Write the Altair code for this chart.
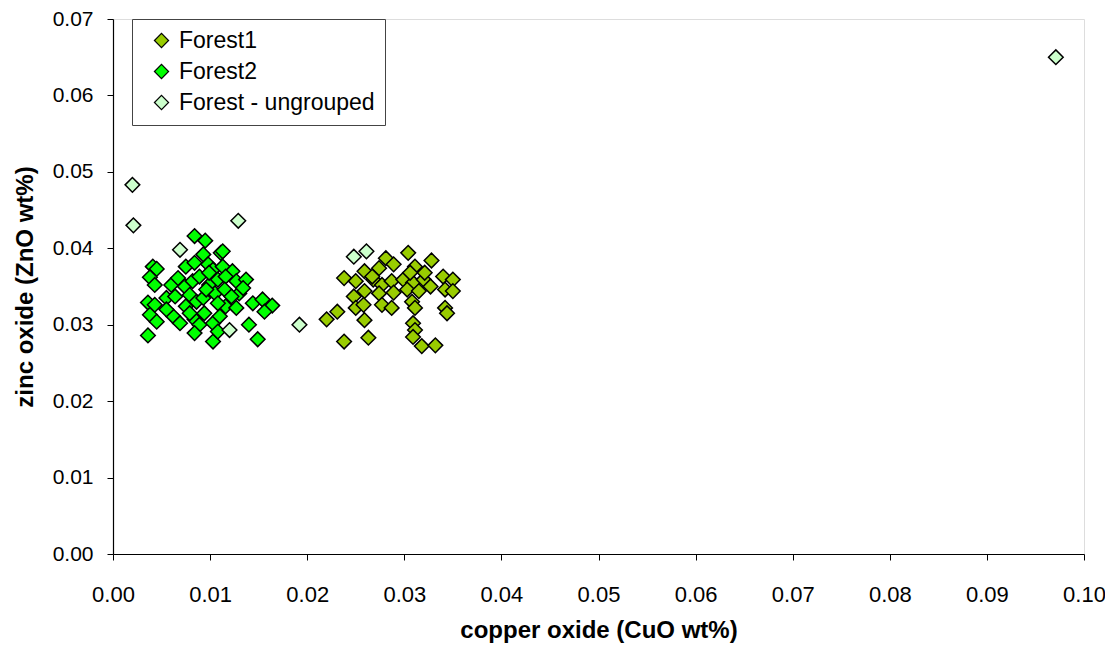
import altair as alt
import pandas as pd

# ---- data ----
groups = ["Forest1", "Forest2", "Forest - ungrouped"]
colors = ["#99CC00", "#00FF00", "#CCFFCC"]

forest1_cuo = [0.0238, 0.0250, 0.0259, 0.0274, 0.0281, 0.0289, 0.0304, 0.0311, 0.0328, 0.0340,
               0.0350, 0.0268, 0.0277, 0.0287, 0.0299, 0.0309, 0.0320, 0.0327, 0.0342, 0.0350,
               0.0259, 0.0248, 0.0274, 0.0289, 0.0303, 0.0315, 0.0250, 0.0258, 0.0277, 0.0287,
               0.0308, 0.0311, 0.0342, 0.0344, 0.0231, 0.0220, 0.0259, 0.0309, 0.0311, 0.0309,
               0.0238, 0.0263, 0.0318, 0.0332, 0.0321, 0.0267, 0.0306]
forest1_zno = [0.0361, 0.0357, 0.0370, 0.0374, 0.0387, 0.0379, 0.0394, 0.0376, 0.0384, 0.0363,
               0.0359, 0.0359, 0.0352, 0.0357, 0.0359, 0.0355, 0.0359, 0.0350, 0.0346, 0.0344,
               0.0344, 0.0337, 0.0341, 0.0342, 0.0346, 0.0344, 0.0322, 0.0326, 0.0326, 0.0322,
               0.0330, 0.0322, 0.0322, 0.0315, 0.0317, 0.0307, 0.0306, 0.0302, 0.0293, 0.0284,
               0.0278, 0.0283, 0.0272, 0.0273, 0.0368, 0.0363, 0.0368]

forest2_cuo = [0.0084, 0.0095, 0.0093, 0.0111, 0.0113, 0.0041, 0.0045, 0.0075, 0.0084, 0.0098,
               0.0103, 0.0113, 0.0123, 0.0038, 0.0043, 0.0060, 0.0067, 0.0074, 0.0082, 0.0089,
               0.0099, 0.0108, 0.0116, 0.0127, 0.0137, 0.0036, 0.0043, 0.0055, 0.0064, 0.0079,
               0.0086, 0.0093, 0.0105, 0.0115, 0.0130, 0.0144, 0.0154, 0.0164, 0.0156, 0.0038,
               0.0045, 0.0062, 0.0069, 0.0084, 0.0089, 0.0103, 0.0110, 0.0116, 0.0127, 0.0140,
               0.0036, 0.0084, 0.0103, 0.0149, 0.0108, 0.0094, 0.0075, 0.0096, 0.0108, 0.0055,
               0.0134, 0.0099, 0.0122, 0.0079]
forest2_zno = [0.0416, 0.0410, 0.0392, 0.0394, 0.0396, 0.0376, 0.0373, 0.0376, 0.0381, 0.0379,
               0.0372, 0.0376, 0.0370, 0.0362, 0.0352, 0.0352, 0.0361, 0.0350, 0.0357, 0.0363,
               0.0352, 0.0359, 0.0363, 0.0357, 0.0359, 0.0329, 0.0326, 0.0335, 0.0337, 0.0339,
               0.0330, 0.0335, 0.0341, 0.0346, 0.0341, 0.0328, 0.0333, 0.0325, 0.0317, 0.0313,
               0.0304, 0.0311, 0.0302, 0.0307, 0.0300, 0.0302, 0.0311, 0.0324, 0.0322, 0.0300,
               0.0286, 0.0289, 0.0278, 0.0281, 0.0291, 0.0315, 0.0324, 0.0346, 0.0328, 0.0320,
               0.0348, 0.0368, 0.0337, 0.0315]

ungrouped_cuo = [0.0020, 0.0021, 0.0129, 0.0069, 0.0120, 0.0192, 0.0248, 0.0261, 0.0971]
ungrouped_zno = [0.0483, 0.0430, 0.0436, 0.0398, 0.0293, 0.0300, 0.0389, 0.0396, 0.0650]

x_ticks = [0.00, 0.01, 0.02, 0.03, 0.04, 0.05, 0.06, 0.07, 0.08, 0.09, 0.10]
y_ticks = [0.00, 0.01, 0.02, 0.03, 0.04, 0.05, 0.06, 0.07]

# ---- table ----
rows = []
for g, xs, ys in [(groups[0], forest1_cuo, forest1_zno),
                  (groups[1], forest2_cuo, forest2_zno),
                  (groups[2], ungrouped_cuo, ungrouped_zno)]:
    for xv, yv in zip(xs, ys):
        rows.append({"group": g, "cuo": xv, "zno": yv})
df = pd.DataFrame(rows)

FONT = "Liberation Sans"
PLOT_W = 971
PLOT_H = 535

chart = alt.Chart(df).mark_point(
    shape="diamond", filled=True, size=215, stroke="black", strokeWidth=1.5, opacity=1
).encode(
    x=alt.X("cuo:Q",
            scale=alt.Scale(domain=[0, 0.1], nice=False, zero=False),
            axis=alt.Axis(values=x_ticks, format=".2f", title="copper oxide (CuO wt%)",
                          grid=False, tickSize=6, tickColor="black", domainColor="black",
                          tickWidth=1, domainWidth=1.2,
                          labelFont=FONT, labelFontSize=22, labelColor="black",
                          labelBaseline="alphabetic", labelPadding=41,
                          titleFont=FONT, titleFontSize=24, titleFontWeight="bold",
                          titleColor="black", titleX=PLOT_W / 2, titleY=83,
                          titleBaseline="alphabetic", labelFlush=False, labelOverlap=False)),
    y=alt.Y("zno:Q",
            scale=alt.Scale(domain=[0, 0.07], nice=False, zero=False),
            axis=alt.Axis(values=y_ticks, format=".2f", title="zinc oxide (ZnO wt%)",
                          grid=False, tickSize=6, tickColor="black", domainColor="black",
                          tickWidth=1, domainWidth=1.2,
                          labelFont=FONT, labelFontSize=21, labelColor="black",
                          labelPadding=14,
                          titleFont=FONT, titleFontSize=24, titleFontWeight="bold",
                          titleColor="black", titleX=-88, titleY=PLOT_H / 2,
                          titleAngle=270, titleBaseline="middle", titleAlign="center",
                          labelFlush=False, labelOverlap=False)),
    color=alt.Color("group:N",
                    scale=alt.Scale(domain=groups, range=colors),
                    legend=alt.Legend(orient="none", legendX=19, legendY=0, title=None,
                                      strokeColor="#444444", fillColor="white",
                                      padding=10, symbolType="diamond", symbolSize=200,
                                      symbolStrokeColor="black", symbolStrokeWidth=1.2,
                                      labelFont=FONT, labelFontSize=23, labelColor="black",
                                      labelLimit=400,
                                      rowPadding=7, labelOffset=6, symbolOffset=8)),
).properties(
    width=PLOT_W,
    height=PLOT_H,
    autosize=alt.AutoSizeParams(type="none"),
    padding={"left": 105, "top": 11, "right": 21, "bottom": 90},
).configure_view(
    stroke=None
).configure(
    background="white"
)

chart.save("out.html", embed_options={"renderer": "svg", "actions": False})
